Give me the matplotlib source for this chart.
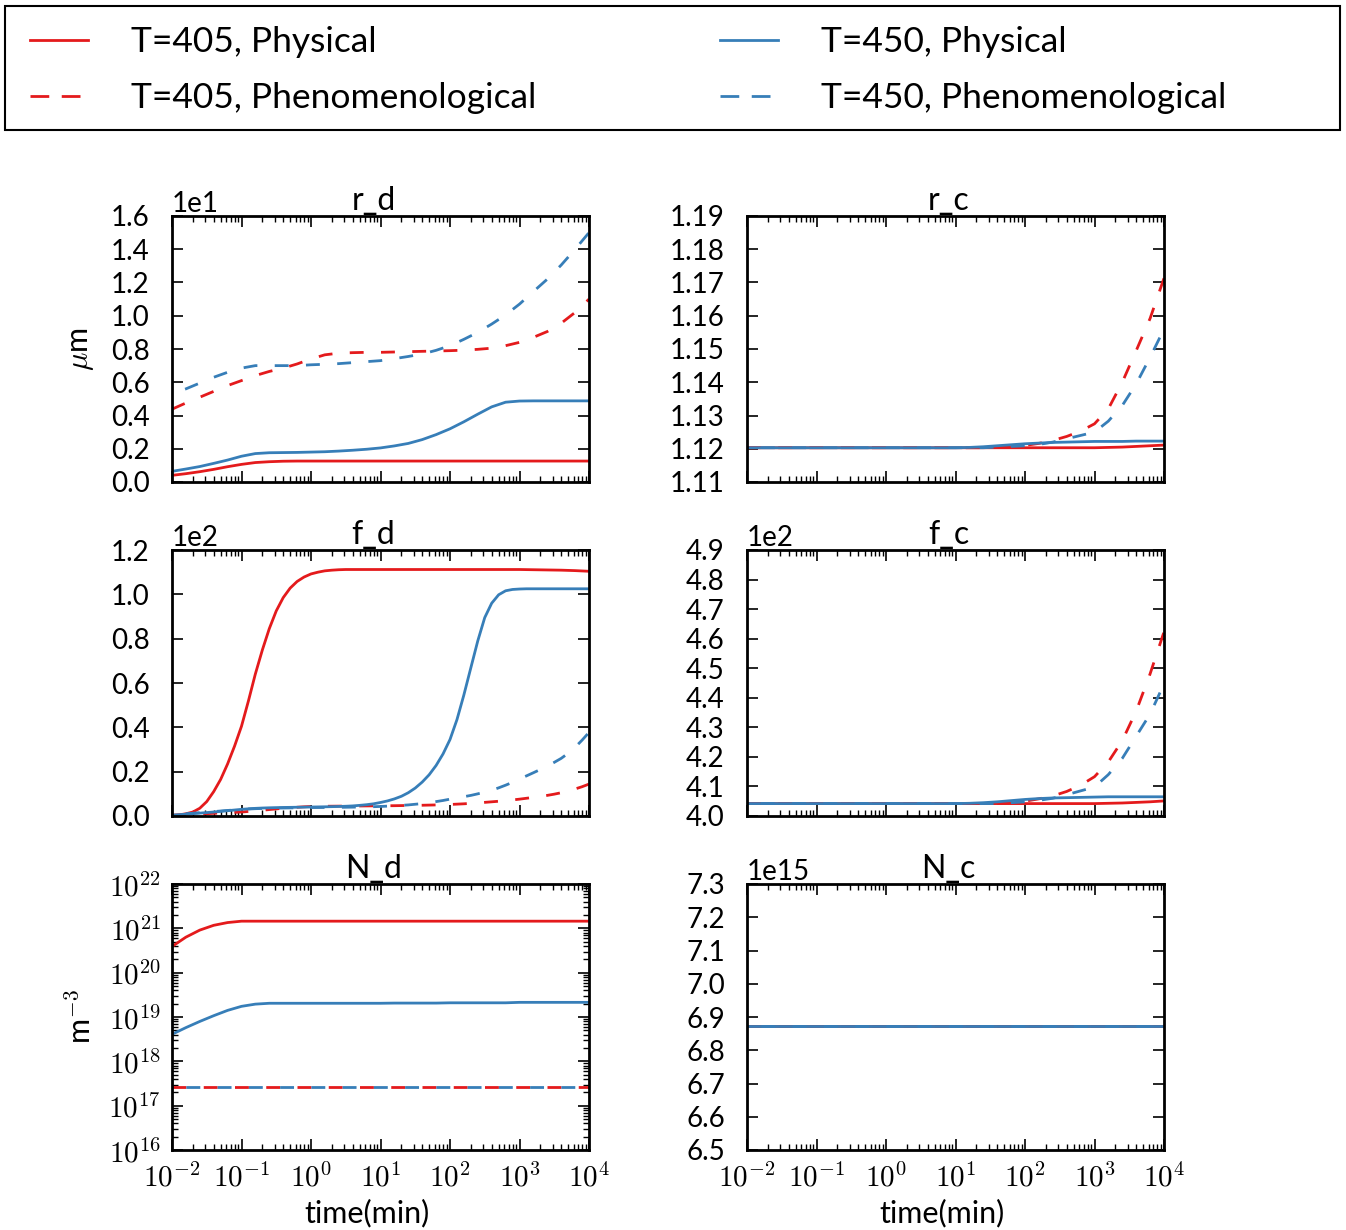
import numpy as np
import matplotlib
matplotlib.use("Agg")
import matplotlib.pyplot as plt
from matplotlib.lines import Line2D
from matplotlib.patches import Rectangle
from matplotlib.ticker import MultipleLocator, FuncFormatter, LogLocator, NullFormatter

plt.rcParams["font.family"] = ["Lato", "DejaVu Sans"]
plt.rcParams["mathtext.fontset"] = "cm"
plt.rcParams["lines.scale_dashes"] = False

# time in minutes (5 points per decade)
time = [0.01, 0.0158, 0.0251, 0.0398, 0.0631, 0.1, 0.158, 0.251, 0.398, 0.631,
        1, 1.58, 2.51, 3.98, 6.31, 10, 15.8, 25.1, 39.8, 63.1,
        100, 158, 251, 398, 631, 1000, 1580, 2510, 3980, 6310, 10000]

# finer time grid for the steep f_d curves (10 points per decade)
time_fd = [0.01, 0.0126, 0.0158, 0.02, 0.0251, 0.0316, 0.0398, 0.0501, 0.0631, 0.0794,
           0.1, 0.126, 0.158, 0.2, 0.251, 0.316, 0.398, 0.501, 0.631, 0.794,
           1, 1.26, 1.58, 2, 2.51, 3.16, 3.98, 5.01, 6.31, 7.94,
           10, 12.6, 15.8, 20, 25.1, 31.6, 39.8, 50.1, 63.1, 79.4,
           100, 126, 158, 200, 251, 316, 398, 501, 631, 794,
           1000, 1260, 1580, 2000, 2510, 3160, 3980, 5010, 6310, 7940, 10000]

labels = ["T=405, Physical", "T=405, Phenomenological",
          "T=450, Physical", "T=450, Phenomenological"]

# r_d (um)
r_d_405_phys = [0.40, 0.50, 0.62, 0.76, 0.92, 1.06, 1.17, 1.22, 1.25, 1.26,
                1.26, 1.26, 1.26, 1.26, 1.26, 1.26, 1.26, 1.26, 1.26, 1.26,
                1.26, 1.26, 1.26, 1.26, 1.26, 1.26, 1.26, 1.26, 1.26, 1.26, 1.26]
r_d_405_phen = [4.38, 4.75, 5.10, 5.45, 5.80, 6.10, 6.40, 6.65, 6.85, 7.10,
                7.40, 7.65, 7.75, 7.78, 7.80, 7.80, 7.82, 7.84, 7.86, 7.88,
                7.90, 7.93, 7.98, 8.05, 8.20, 8.40, 8.70, 9.05, 9.55, 10.2, 11.0]
r_d_450_phys = [0.64, 0.78, 0.93, 1.12, 1.32, 1.55, 1.71, 1.76, 1.77, 1.78,
                1.80, 1.82, 1.86, 1.91, 1.97, 2.05, 2.17, 2.32, 2.55, 2.85,
                3.20, 3.62, 4.08, 4.52, 4.80, 4.87, 4.88, 4.88, 4.88, 4.88, 4.88]
r_d_450_phen = [5.30, 5.60, 5.95, 6.30, 6.60, 6.85, 7.00, 7.00, 7.00, 7.00,
                7.05, 7.08, 7.12, 7.18, 7.24, 7.30, 7.42, 7.55, 7.70, 7.92,
                8.20, 8.58, 9.00, 9.50, 10.05, 10.7, 11.45, 12.2, 13.05, 14.0, 15.0]

# r_c
r_c_405_phys = [1.1203, 1.1203, 1.1203, 1.1203, 1.1203, 1.1203, 1.1203, 1.1203, 1.1203, 1.1203,
                1.1203, 1.1203, 1.1203, 1.1203, 1.1203, 1.1203, 1.1203, 1.1203, 1.1203, 1.1203,
                1.1203, 1.1203, 1.1203, 1.1203, 1.1203, 1.1203, 1.1204, 1.1205, 1.1207, 1.1209, 1.1211]
r_c_405_phen = [1.1203, 1.1203, 1.1203, 1.1203, 1.1203, 1.1203, 1.1203, 1.1203, 1.1203, 1.1203,
                1.1203, 1.1203, 1.1203, 1.1203, 1.1203, 1.1203, 1.1203, 1.1203, 1.1205, 1.1207,
                1.1210, 1.1216, 1.1225, 1.1237, 1.1253, 1.1275, 1.1320, 1.1400, 1.1495, 1.1592, 1.1713]
r_c_450_phys = [1.1203, 1.1203, 1.1203, 1.1203, 1.1203, 1.1203, 1.1203, 1.1203, 1.1203, 1.1203,
                1.1203, 1.1203, 1.1203, 1.1203, 1.1203, 1.1203, 1.1204, 1.1206, 1.1209, 1.1212,
                1.1215, 1.1217, 1.1219, 1.1220, 1.1221, 1.1222, 1.1222, 1.1222, 1.1223, 1.1223, 1.1223]
r_c_450_phen = [1.1203, 1.1203, 1.1203, 1.1203, 1.1203, 1.1203, 1.1203, 1.1203, 1.1203, 1.1203,
                1.1203, 1.1203, 1.1203, 1.1203, 1.1203, 1.1203, 1.1203, 1.1203, 1.1205, 1.1207,
                1.1209, 1.1213, 1.1220, 1.1230, 1.1240, 1.1250, 1.1283, 1.1330, 1.1395, 1.1475, 1.1560]

# f_d (on time_fd)
f_d_405_phys = [0.3, 0.5, 1.0, 1.8, 3.5, 6.5, 11.0, 16.5, 23.5, 31.5,
                40.5, 52.0, 64.0, 75.0, 84.5, 92.5, 98.5, 102.8, 105.8, 107.8,
                109.2, 110.0, 110.6, 110.9, 111.1, 111.2, 111.2, 111.2, 111.2, 111.2,
                111.2, 111.2, 111.2, 111.2, 111.2, 111.2, 111.2, 111.2, 111.2, 111.2,
                111.2, 111.2, 111.2, 111.2, 111.2, 111.2, 111.2, 111.2, 111.2, 111.2,
                111.2, 111.15, 111.1, 111.05, 111.0, 110.95, 110.9, 110.8, 110.7, 110.55, 110.4]
f_d_405_phen = [0.3, 0.45, 0.6, 0.75, 0.9, 1.05, 1.2, 1.35, 1.5, 1.65,
                1.8, 2.05, 2.3, 2.6, 2.9, 3.2, 3.5, 3.75, 3.95, 4.15,
                4.3, 4.35, 4.4, 4.42, 4.45, 4.48, 4.5, 4.52, 4.55, 4.58,
                4.6, 4.62, 4.65, 4.7, 4.75, 4.8, 4.85, 4.92, 5.0, 5.1,
                5.2, 5.35, 5.5, 5.7, 5.9, 6.15, 6.4, 6.65, 6.9, 7.25,
                7.6, 8.0, 8.4, 8.85, 9.3, 9.85, 10.5, 11.3, 12.2, 13.2, 14.4]
f_d_450_phys = [0.4, 0.6, 0.8, 1.05, 1.3, 1.55, 1.8, 2.1, 2.4, 2.7,
                3.0, 3.25, 3.45, 3.6, 3.7, 3.78, 3.85, 3.9, 3.95, 4.0,
                4.05, 4.1, 4.15, 4.22, 4.3, 4.4, 4.55, 4.8, 5.1, 5.5,
                6.1, 6.8, 7.7, 8.9, 10.5, 12.6, 15.3, 18.6, 22.8, 28.0,
                34.5, 43.5, 54.5, 67.0, 79.0, 89.5, 96.0, 99.8, 101.6, 102.2,
                102.4, 102.5, 102.5, 102.5, 102.5, 102.5, 102.5, 102.5, 102.5, 102.5, 102.5]
f_d_450_phen = [0.5, 0.75, 1.0, 1.25, 1.5, 1.75, 2.0, 2.25, 2.5, 2.75,
                3.0, 3.15, 3.3, 3.4, 3.5, 3.55, 3.6, 3.65, 3.7, 3.75,
                3.8, 3.82, 3.85, 3.88, 3.9, 3.95, 4.0, 4.05, 4.1, 4.2,
                4.3, 4.45, 4.6, 4.8, 5.0, 5.3, 5.6, 6.0, 6.5, 7.0,
                7.6, 8.1, 8.7, 9.3, 10.0, 10.8, 11.6, 12.7, 13.9, 15.2,
                16.7, 18.1, 19.5, 21.0, 22.5, 24.2, 26.0, 28.3, 31.0, 34.2, 37.7]

# f_c
f_c_405_phys = [404.2, 404.2, 404.2, 404.2, 404.2, 404.2, 404.2, 404.2, 404.2, 404.2,
                404.2, 404.2, 404.2, 404.2, 404.2, 404.2, 404.2, 404.2, 404.2, 404.2,
                404.2, 404.2, 404.2, 404.2, 404.2, 404.2, 404.3, 404.4, 404.6, 404.8, 405.1]
f_c_405_phen = [404.2, 404.2, 404.2, 404.2, 404.2, 404.2, 404.2, 404.2, 404.2, 404.2,
                404.2, 404.2, 404.2, 404.2, 404.2, 404.2, 404.2, 404.2, 404.2, 404.5,
                405.0, 405.8, 406.8, 408.3, 410.4, 413.3, 418.3, 425.5, 435.5, 448.1, 462.3]
f_c_450_phys = [404.2, 404.2, 404.2, 404.2, 404.2, 404.2, 404.2, 404.2, 404.2, 404.2,
                404.2, 404.2, 404.2, 404.2, 404.2, 404.2, 404.3, 404.5, 404.8, 405.2,
                405.6, 405.9, 406.1, 406.2, 406.3, 406.4, 406.5, 406.5, 406.5, 406.5, 406.5]
f_c_450_phen = [404.2, 404.2, 404.2, 404.2, 404.2, 404.2, 404.2, 404.2, 404.2, 404.2,
                404.2, 404.2, 404.2, 404.2, 404.2, 404.2, 404.2, 404.2, 404.2, 404.5,
                404.8, 405.3, 406.0, 407.2, 408.5, 409.8, 414.0, 419.5, 427.0, 434.5, 444.7]

# N_d (m^-3)
N_d_405_phys = [3.89e20, 6.31e20, 9.12e20, 1.17e21, 1.35e21, 1.45e21, 1.45e21, 1.45e21, 1.45e21, 1.45e21,
                1.45e21, 1.45e21, 1.45e21, 1.45e21, 1.45e21, 1.45e21, 1.45e21, 1.45e21, 1.45e21, 1.45e21,
                1.45e21, 1.45e21, 1.45e21, 1.45e21, 1.45e21, 1.45e21, 1.45e21, 1.45e21, 1.45e21, 1.45e21, 1.45e21]
N_d_405_phen = [2.7e17, 2.7e17, 2.7e17, 2.7e17, 2.7e17, 2.7e17, 2.7e17, 2.7e17, 2.7e17, 2.7e17,
                2.7e17, 2.7e17, 2.7e17, 2.7e17, 2.7e17, 2.7e17, 2.7e17, 2.7e17, 2.7e17, 2.7e17,
                2.7e17, 2.7e17, 2.7e17, 2.7e17, 2.7e17, 2.7e17, 2.7e17, 2.7e17, 2.7e17, 2.7e17, 2.7e17]
N_d_450_phys = [4.07e18, 5.75e18, 7.94e18, 1.07e19, 1.41e19, 1.74e19, 1.95e19, 2.04e19, 2.04e19, 2.04e19,
                2.04e19, 2.04e19, 2.04e19, 2.04e19, 2.04e19, 2.04e19, 2.06e19, 2.06e19, 2.06e19, 2.06e19,
                2.09e19, 2.09e19, 2.09e19, 2.09e19, 2.09e19, 2.14e19, 2.14e19, 2.14e19, 2.14e19, 2.14e19, 2.14e19]
N_d_450_phen = [2.7e17, 2.7e17, 2.7e17, 2.7e17, 2.7e17, 2.7e17, 2.7e17, 2.7e17, 2.7e17, 2.7e17,
                2.7e17, 2.7e17, 2.7e17, 2.7e17, 2.7e17, 2.7e17, 2.7e17, 2.7e17, 2.7e17, 2.7e17,
                2.7e17, 2.7e17, 2.7e17, 2.7e17, 2.7e17, 2.7e17, 2.7e17, 2.7e17, 2.7e17, 2.7e17, 2.7e17]

# N_c (m^-3), same for every case
N_c_all = [6.873e15, 6.873e15, 6.873e15, 6.873e15, 6.873e15, 6.873e15, 6.873e15, 6.873e15, 6.873e15, 6.873e15,
           6.873e15, 6.873e15, 6.873e15, 6.873e15, 6.873e15, 6.873e15, 6.873e15, 6.873e15, 6.873e15, 6.873e15,
           6.873e15, 6.873e15, 6.873e15, 6.873e15, 6.873e15, 6.873e15, 6.873e15, 6.873e15, 6.873e15, 6.873e15, 6.873e15]

RED = "#e41a1c"
BLUE = "#377eb8"
DASH_RED = (0, (10, 12.5))
DASH_BLUE = (12.5, (10, 12.5))
LW = 2.0

W, H = 1346.0, 1230.0
fig = plt.figure(figsize=(W / 100, H / 100), dpi=100)


def axes_at(x0, y0, x1, y1):
    # pixel box -> figure fraction
    return fig.add_axes([x0 / W, 1 - y1 / H, (x1 - x0) / W, (y1 - y0) / H])


def log_label(v, pos):
    return r"$10^{%d}$" % int(round(np.log10(v)))


def draw(ax, t, series, title):
    styles = [(RED, "-"), (RED, DASH_RED), (BLUE, "-"), (BLUE, DASH_BLUE)]
    for (c, ls), y in zip(styles, series):
        ax.plot(t, y, color=c, ls=ls, lw=LW)
    ax.set_xscale("log")
    ax.set_xlim(1e-2, 1e4)
    ax.xaxis.set_major_locator(LogLocator(base=10, numticks=20))
    ax.xaxis.set_minor_locator(LogLocator(base=10, subs=np.arange(2, 10), numticks=20))
    ax.xaxis.set_major_formatter(FuncFormatter(log_label))
    ax.xaxis.set_minor_formatter(NullFormatter())
    ax.tick_params(which="both", direction="in", top=True, right=True)
    ax.tick_params(which="major", length=8, width=1.2)
    ax.tick_params(which="minor", length=4, width=1.0)
    ax.tick_params(axis="y", labelsize=20, pad=16)
    ax.tick_params(axis="x", labelsize=21, pad=9)
    for s in ax.spines.values():
        s.set_linewidth(2)
    ax.set_title(title, fontsize=23, x=0.483, pad=3)


def linear_y(ax, lo, hi, step, power):
    ax.set_ylim(lo, hi)
    ax.yaxis.set_major_locator(MultipleLocator(step))
    if power:
        ax.ticklabel_format(axis="y", style="sci", scilimits=(power, power), useOffset=False)
    else:
        ax.ticklabel_format(axis="y", useOffset=False)
    ax.yaxis.get_offset_text().set_fontsize(20)


ax_rd = axes_at(172, 216, 589, 482)
ax_rc = axes_at(747, 216, 1164, 482)
ax_fd = axes_at(172, 550, 589, 816)
ax_fc = axes_at(747, 550, 1164, 816)
ax_Nd = axes_at(172, 884, 589, 1150)
ax_Nc = axes_at(747, 884, 1164, 1150)

draw(ax_rd, time, [r_d_405_phys, r_d_405_phen, r_d_450_phys, r_d_450_phen], "r_d")
draw(ax_rc, time, [r_c_405_phys, r_c_405_phen, r_c_450_phys, r_c_450_phen], "r_c")
draw(ax_fd, time_fd, [f_d_405_phys, f_d_405_phen, f_d_450_phys, f_d_450_phen], "f_d")
draw(ax_fc, time, [f_c_405_phys, f_c_405_phen, f_c_450_phys, f_c_450_phen], "f_c")
draw(ax_Nd, time, [N_d_405_phys, N_d_405_phen, N_d_450_phys, N_d_450_phen], "N_d")
draw(ax_Nc, time, [N_c_all, N_c_all, N_c_all, N_c_all], "N_c")

linear_y(ax_rd, 0, 16, 2, 1)
linear_y(ax_rc, 1.11, 1.19, 0.01, 0)
linear_y(ax_fd, 0, 120, 20, 2)
linear_y(ax_fc, 400, 490, 10, 2)
linear_y(ax_Nc, 6.5e15, 7.3e15, 0.1e15, 15)

ax_Nd.set_yscale("log")
ax_Nd.set_ylim(1e16, 1e22)
ax_Nd.yaxis.set_major_locator(LogLocator(base=10, numticks=20))
ax_Nd.yaxis.set_minor_locator(LogLocator(base=10, subs=np.arange(2, 10), numticks=20))
ax_Nd.yaxis.set_major_formatter(FuncFormatter(log_label))
ax_Nd.yaxis.set_minor_formatter(NullFormatter())
ax_Nd.tick_params(axis="y", labelsize=21, pad=8)

for ax in [ax_rd, ax_rc, ax_fd, ax_fc]:
    ax.tick_params(axis="x", labelbottom=False)
for ax in [ax_Nd, ax_Nc]:
    ax.set_xlabel("time(min)", fontsize=22, x=0.467, labelpad=5)

ax_rd.set_ylabel(r"$\mu$m", fontsize=22)
ax_rd.yaxis.set_label_coords(-0.183, 0.5)
ax_Nd.set_ylabel(r"m$^{-3}$", fontsize=22)
ax_Nd.yaxis.set_label_coords(-0.183, 0.5)

# legend: two columns of proxy handles inside a full-width box
LEG_DASH = (0, (13.5, 9))
proxies = [Line2D([], [], color=RED, lw=LW),
           Line2D([], [], color=RED, lw=LW, ls=LEG_DASH),
           Line2D([], [], color=BLUE, lw=LW),
           Line2D([], [], color=BLUE, lw=LW, ls=LEG_DASH)]
leg_kw = dict(loc="upper left", frameon=False, fontsize=25.5, borderpad=0,
              borderaxespad=0, handlelength=1.65, handletextpad=1.2, labelspacing=0.68)
fig.legend(proxies[:2], labels[:2], bbox_to_anchor=(30 / W, 1 - 26 / H), **leg_kw)
fig.legend(proxies[2:], labels[2:], bbox_to_anchor=(720 / W, 1 - 26 / H), **leg_kw)
fig.add_artist(Rectangle((5 / W, 1 - 130 / H), 1335 / W, 124 / H, transform=fig.transFigure,
                         fill=False, lw=1.5, ec="black"))

fig.savefig("out.png", dpi=100)
